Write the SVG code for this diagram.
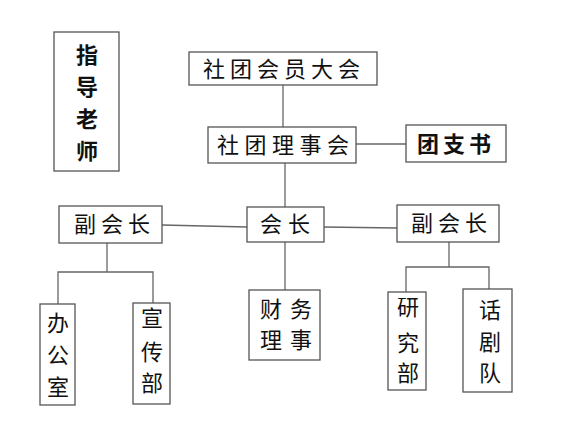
<svg xmlns="http://www.w3.org/2000/svg" width="575" height="436" viewBox="0 0 575 436">
<style>
rect{fill:#fff;stroke:#555;stroke-width:1.3}
.c line,.c polyline{stroke:#666;stroke-width:1.3;fill:none}
text{font-family:"Noto Sans CJK SC","Noto Sans CJK JP",sans-serif;font-size:22px;fill:#111}
.b{font-weight:bold;font-size:22px}
.v{text-anchor:middle}
</style>
<rect x="0" y="0" width="575" height="436" style="fill:#fff;stroke:none"/>
<g class="c" id="connectors">
<line x1="283" y1="85" x2="283" y2="127"/>
<line x1="285" y1="163" x2="285" y2="207"/>
<line x1="356" y1="144" x2="406" y2="144"/>
<line x1="162" y1="225" x2="247" y2="227"/>
<line x1="324" y1="227" x2="397" y2="228"/>
<line x1="285" y1="242" x2="285" y2="290"/>
<line x1="107" y1="243" x2="107" y2="272"/>
<polyline points="58,304 58,272 153,272 153,303"/>
<line x1="449" y1="242" x2="449" y2="267"/>
<polyline points="406,292 406,267 489,267 489,289"/>
</g>
<g id="advisor">
<rect x="54" y="32" width="65" height="139"/>
<text class="b v" x="87" y="63">指</text>
<text class="b v" x="87" y="95">导</text>
<text class="b v" x="87" y="127">老</text>
<text class="b v" x="87" y="159">师</text>
</g>
<g id="assembly">
<rect x="189" y="52" width="188" height="33"/>
<text x="203" y="77" letter-spacing="5">社团会员大会</text>
</g>
<g id="council">
<rect x="208" y="127" width="148" height="36"/>
<text x="217" y="153" letter-spacing="5.5">社团理事会</text>
</g>
<g id="league">
<rect x="406" y="125" width="100" height="37"/>
<text class="b" x="417" y="152" letter-spacing="4">团支书</text>
</g>
<g id="president">
<rect x="247" y="207" width="77" height="35"/>
<text x="260" y="232" letter-spacing="6">会长</text>
</g>
<g id="vp-left">
<rect x="59" y="206" width="103" height="37"/>
<text x="74" y="232" letter-spacing="5">副会长</text>
</g>
<g id="vp-right">
<rect x="397" y="205" width="102" height="37"/>
<text x="411" y="231" letter-spacing="5">副会长</text>
</g>
<g id="office">
<rect x="40" y="304" width="35" height="101"/>
<text class="v" x="58" y="331">办</text>
<text class="v" x="58" y="363">公</text>
<text class="v" x="58" y="395">室</text>
</g>
<g id="publicity">
<rect x="133" y="303" width="37" height="101"/>
<text class="v" x="152" y="326">宣</text>
<text class="v" x="152" y="360">传</text>
<text class="v" x="152" y="391">部</text>
</g>
<g id="finance">
<rect x="249" y="290" width="71" height="70"/>
<text x="260" y="317" letter-spacing="8">财务</text>
<text x="260" y="348" letter-spacing="8">理事</text>
</g>
<g id="research">
<rect x="388" y="292" width="38" height="98"/>
<text class="v" x="408" y="315">研</text>
<text class="v" x="408" y="351">究</text>
<text class="v" x="408" y="381">部</text>
</g>
<g id="drama">
<rect x="463" y="289" width="49" height="103"/>
<text class="v" x="490" y="318">话</text>
<text class="v" x="490" y="350">剧</text>
<text class="v" x="490" y="381">队</text>
</g>
</svg>
